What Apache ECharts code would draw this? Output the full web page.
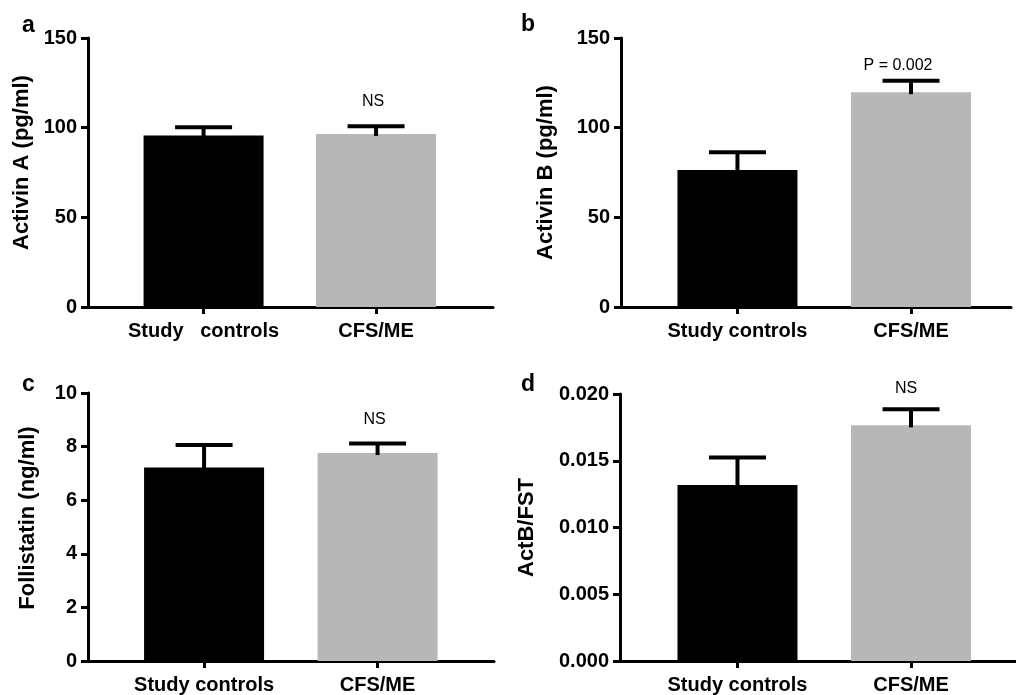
<!DOCTYPE html>
<html>
<head>
<meta charset="utf-8">
<script src="https://cdn.jsdelivr.net/npm/echarts@6/dist/echarts.min.js"></script>
<style>html,body{margin:0;padding:0;background:#fff;}#c{width:1016px;height:695px;}</style>
</head>
<body>
<div id="c"></div>
<script>
// ---- data ----
var categoriesA = ['Study   controls', 'CFS/ME'];
var categories = ['Study controls', 'CFS/ME'];
var groupPos = [1, 2];

var activinA_mean = [95.6, 96.5];
var activinA_err  = [4.6, 4.3];
var activinA_note = ['', 'NS'];
var activinA_ticks = [0, 50, 100, 150];

var activinB_mean = [76.4, 119.8];
var activinB_err  = [9.9, 6.3];
var activinB_note = ['', 'P = 0.002'];
var activinB_ticks = [0, 50, 100, 150];

var follistatin_mean = [7.22, 7.76];
var follistatin_err  = [0.84, 0.36];
var follistatin_note = ['', 'NS'];
var follistatin_ticks = [0, 2, 4, 6, 8, 10];

var ratio_mean = [0.01319, 0.01765];
var ratio_err  = [0.00206, 0.00121];
var ratio_note = ['', 'NS'];
var ratio_ticks = ['0.000', '0.005', '0.010', '0.015', '0.020'];

// ---- chart ----
var barColors = ['#000000', '#b6b7b6'];
var FONT = 'Liberation Sans';

var panels = [
  {letter:'a', name:'Activin A (pg/ml)', cats:categoriesA, mean:activinA_mean, err:activinA_err, note:activinA_note,
   yMax:150, yInt:50, dec:0, grid:{left:88, top:38, width:405, height:269}, xMin:0.330, xMax:2.678,
   nameGap:55, namePad:[0,0,0,20], noteDx:-3, noteDy:-25, letterPos:{left:22, top:14}},
  {letter:'b', name:'Activin B (pg/ml)', cats:categories, mean:activinB_mean, err:activinB_err, note:activinB_note,
   yMax:150, yInt:50, dec:0, grid:{left:621, top:38, width:390, height:269}, xMin:0.329, xMax:2.576,
   nameGap:64, namePad:[0,0,0,0], noteDx:-13, noteDy:-15, letterPos:{left:521, top:13}},
  {letter:'c', name:'Follistatin (ng/ml)', cats:categories, mean:follistatin_mean, err:follistatin_err, note:follistatin_note,
   yMax:10, yInt:2, dec:0, grid:{left:88, top:393, width:406, height:269}, xMin:0.331, xMax:2.671,
   nameGap:49, namePad:[0,0,0,18], noteDx:-3, noteDy:-24, letterPos:{left:22, top:373}},
  {letter:'d', name:'ActB/FST', cats:categories, mean:ratio_mean, err:ratio_err, note:ratio_note,
   yMax:0.020, yInt:0.005, dec:3, grid:{left:620, top:394, width:396, height:269}, xMin:0.323, xMax:2.605,
   nameGap:82, namePad:[0,0,0,0], noteDx:-5, noteDy:-21, letterPos:{left:521, top:373}}
];

var grids = [], xAxes = [], yAxes = [], series = [], graphics = [];
panels.forEach(function (p, i) {
  grids.push(Object.assign({containLabel:false}, p.grid));
  var cats = p.cats;
  xAxes.push({
    type:'value', gridIndex:i, min:p.xMin, max:p.xMax,
    splitLine:{show:false},
    axisLine:{show:true, onZero:false, lineStyle:{color:'#000', width:3}},
    axisTick:{show:true, customValues:groupPos, length:7, lineStyle:{color:'#000', width:3}},
    axisLabel:{show:true, customValues:groupPos, margin:14,
      formatter:function (v) { return cats[Math.round(v) - 1]; },
      color:'#000', fontFamily:FONT, fontWeight:'bold', fontSize:20}
  });
  yAxes.push({
    type:'value', gridIndex:i, min:0, max:p.yMax, interval:p.yInt,
    name:p.name, nameLocation:'middle', nameGap:p.nameGap,
    nameTextStyle:{color:'#000', fontFamily:FONT, fontWeight:'bold', fontSize:22, padding:p.namePad},
    splitLine:{show:false},
    axisLine:{show:true, lineStyle:{color:'#000', width:3}},
    axisTick:{show:true, length:7, lineStyle:{color:'#000', width:3}},
    axisLabel:{margin:11, color:'#000', fontFamily:FONT, fontWeight:'bold', fontSize:20,
      formatter:function (v) { return v.toFixed(p.dec); }}
  });
  series.push({
    type:'bar', xAxisIndex:i, yAxisIndex:i, barWidth:120, silent:true,
    data: groupPos.map(function (x, k) {
      return {value:[x, p.mean[k]], itemStyle:{color:barColors[k]}};
    })
  });
  var note = p.note;
  series.push({
    type:'custom', xAxisIndex:i, yAxisIndex:i, silent:true, z:5,
    data: groupPos.map(function (x, k) { return [x, p.mean[k], p.mean[k] + p.err[k], k]; }),
    renderItem:function (params, api) {
      var x = api.value(0), m = api.value(1), top = api.value(2), k = api.value(3);
      var pm = api.coord([x, m]);
      var pt = api.coord([x, top]);
      var capHalf = 28.5;
      var children = [
        {type:'line', shape:{x1:pt[0], y1:pm[1] + 2, x2:pt[0], y2:pt[1]}, style:{stroke:'#000', lineWidth:4}},
        {type:'line', shape:{x1:pt[0] - capHalf, y1:pt[1], x2:pt[0] + capHalf, y2:pt[1]}, style:{stroke:'#000', lineWidth:4}}
      ];
      if (note[k]) {
        children.push({type:'text', x:pt[0] + p.noteDx, y:pt[1] + p.noteDy,
          style:{text:note[k], fill:'#000', font:'16px "' + FONT + '"', align:'center', verticalAlign:'middle'}});
      }
      return {type:'group', children:children};
    }
  });
  graphics.push({type:'text', left:p.letterPos.left, top:p.letterPos.top,
    style:{text:p.letter, fill:'#000', font:'bold 23px "Liberation Sans"'}});
});

var chart = echarts.init(document.getElementById('c'), null, {renderer:'canvas'});
chart.setOption({
  backgroundColor:'#ffffff',
  animation:false,
  grid:grids, xAxis:xAxes, yAxis:yAxes, series:series, graphic:graphics
});
</script>
</body>
</html>
